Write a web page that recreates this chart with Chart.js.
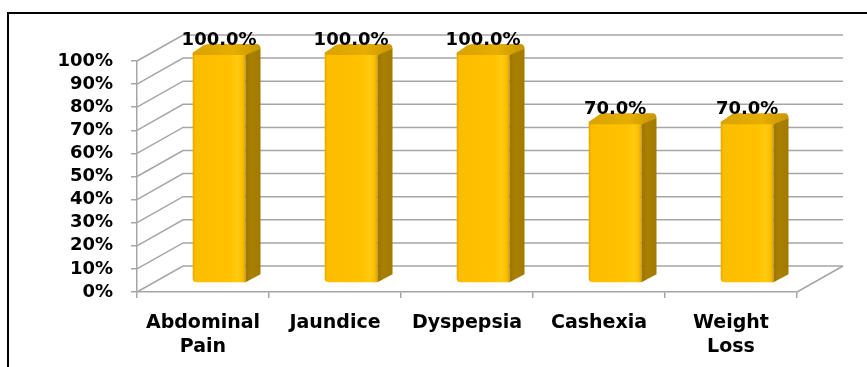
<!DOCTYPE html>
<html>
<head>
<meta charset="utf-8">
<script src="https://cdn.jsdelivr.net/npm/chart.js@4/dist/chart.umd.min.js"></script>
<style>
html,body{margin:0;padding:0;background:#fff;}
#wrap{position:relative;width:867px;height:367px;}
</style>
</head>
<body>
<div id="wrap"><canvas id="c" width="867" height="367"></canvas></div>
<script>
const categories = [["Abdominal","Pain"], "Jaundice", "Dyspepsia", "Cashexia", ["Weight","Loss"]];
const values = [100, 100, 100, 70, 70];
const valueLabels = ["100.0%", "100.0%", "100.0%", "70.0%", "70.0%"];
const yTicks = [0, 10, 20, 30, 40, 50, 60, 70, 80, 90, 100];

const DEPTH_X = 46, DEPTH_Y = -26;   // back wall offset
const BAR_F = 0.35;                  // bar front plane depth fraction
const SIDE_X = 15, SIDE_Y = -8;      // bar side thickness
const GRID = '#a6a6a6';

const wall3d = {
  id: 'wall3d',
  beforeDatasetsDraw(chart) {
    const {ctx, chartArea: a, scales: {x, y}} = chart;
    ctx.save();
    ctx.strokeStyle = GRID;
    ctx.lineWidth = 1.5;
    yTicks.forEach(v => {
      const py = y.getPixelForValue(v);
      ctx.beginPath();
      ctx.moveTo(a.left, py);
      ctx.lineTo(a.left + DEPTH_X, py + DEPTH_Y);
      ctx.lineTo(a.right + DEPTH_X, py + DEPTH_Y);
      ctx.stroke();
    });
    const p0 = y.getPixelForValue(0);
    ctx.beginPath();
    ctx.moveTo(a.right, p0);
    ctx.lineTo(a.right + DEPTH_X, p0 + DEPTH_Y);
    ctx.stroke();
    ctx.restore();
    ctx.save();
    ctx.translate(DEPTH_X * BAR_F, DEPTH_Y * BAR_F);
  },
  afterDatasetsDraw(chart) {
    const {ctx} = chart;
    const meta = chart.getDatasetMeta(0);
    meta.data.forEach((bar, i) => {
      const l = bar.x - bar.width / 2, r = bar.x + bar.width / 2;
      const t = bar.y, b = bar.base;
      const sg = ctx.createLinearGradient(r, 0, r + SIDE_X, 0);
      sg.addColorStop(0, '#9c7600');
      sg.addColorStop(0.4, '#a98000');
      sg.addColorStop(1, '#a07a00');
      ctx.fillStyle = sg;
      ctx.beginPath();
      ctx.moveTo(r, t + 3);
      ctx.lineTo(r + SIDE_X - 2, t + SIDE_Y + 2);
      ctx.quadraticCurveTo(r + SIDE_X, t + SIDE_Y + 3, r + SIDE_X, t + SIDE_Y + 6);
      ctx.lineTo(r + SIDE_X, b + SIDE_Y);
      ctx.lineTo(r, b);
      ctx.closePath();
      ctx.fill();
      const tg = ctx.createLinearGradient(l, 0, r + SIDE_X, 0);
      tg.addColorStop(0, '#d9a300');
      tg.addColorStop(0.6, '#e6ae00');
      tg.addColorStop(1, '#c89600');
      ctx.fillStyle = tg;
      ctx.beginPath();
      ctx.moveTo(l, t + 3);
      ctx.quadraticCurveTo(l, t, l + 4, t - 2);
      ctx.lineTo(l + SIDE_X - 4, t + SIDE_Y + 1);
      ctx.quadraticCurveTo(l + SIDE_X - 1, t + SIDE_Y, l + SIDE_X + 2, t + SIDE_Y);
      ctx.lineTo(r + SIDE_X - 4, t + SIDE_Y);
      ctx.quadraticCurveTo(r + SIDE_X, t + SIDE_Y, r + SIDE_X, t + SIDE_Y + 5);
      ctx.lineTo(r, t + 3);
      ctx.closePath();
      ctx.fill();
      ctx.fillStyle = '#000';
      ctx.font = 'bold 18px "DejaVu Sans"';
      ctx.textAlign = 'center';
      ctx.textBaseline = 'alphabetic';
      ctx.fillText(valueLabels[i], bar.x, t + SIDE_Y + 1);
    });
    ctx.restore();
  },
  afterDraw(chart) {
    const {ctx} = chart;
    ctx.save();
    ctx.strokeStyle = '#000';
    ctx.lineWidth = 2;
    ctx.beginPath();
    ctx.moveTo(8, 367);
    ctx.lineTo(8, 13);
    ctx.lineTo(867, 13);
    ctx.stroke();
    ctx.restore();
  }
};

function faceGradient(c) {
  const chart = c.chart;
  const xs = chart.scales.x;
  if (!chart.chartArea || !xs) return '#ffc000';
  const cx = xs.getPixelForValue(c.dataIndex);
  const hw = (xs.width / categories.length) * 0.4 / 2;
  const g = chart.ctx.createLinearGradient(cx - hw, 0, cx + hw, 0);
  g.addColorStop(0, '#e6a600');
  g.addColorStop(0.05, '#fdbd00');
  g.addColorStop(0.7, '#ffc100');
  g.addColorStop(0.85, '#ffca10');
  g.addColorStop(0.94, '#fcbf00');
  g.addColorStop(1, '#dca200');
  return g;
}

new Chart(document.getElementById('c'), {
  type: 'bar',
  data: {
    labels: categories,
    datasets: [{
      data: values,
      backgroundColor: faceGradient,
      borderWidth: 0,
      borderRadius: {topLeft: 0, topRight: 0, bottomLeft: 4, bottomRight: 0},
      borderSkipped: false,
      barPercentage: 0.4,
      categoryPercentage: 1
    }]
  },
  plugins: [wall3d],
  options: {
    responsive: false,
    animation: false,
    devicePixelRatio: 1,
    layout: {padding: {top: 61, right: 70, left: 0, bottom: 0}},
    plugins: {legend: {display: false}, tooltip: {enabled: false}},
    scales: {
      x: {
        afterFit: s => { s.height = 75; },
        grid: {offset: true, drawOnChartArea: false, drawTicks: true, tickLength: 6, color: GRID, lineWidth: 1.5},
        border: {display: true, color: GRID, width: 1.5},
        ticks: {color: '#000', font: {family: 'DejaVu Sans', size: 19, weight: 'bold', lineHeight: 1.26}, padding: 13, maxRotation: 0, autoSkip: false}
      },
      y: {
        min: 0, max: 100,
        afterFit: s => { s.width = 137; },
        afterBuildTicks: s => { s.ticks = yTicks.map(v => ({value: v})); },
        grid: {drawOnChartArea: false, drawTicks: true, tickLength: 6, color: GRID, lineWidth: 1.5},
        border: {display: true, color: GRID, width: 1.5},
        ticks: {color: '#000', font: {family: 'DejaVu Sans', size: 18, weight: 'bold'}, padding: 18, autoSkip: false, callback: v => v + '%'}
      }
    }
  }
});
</script>
</body>
</html>
